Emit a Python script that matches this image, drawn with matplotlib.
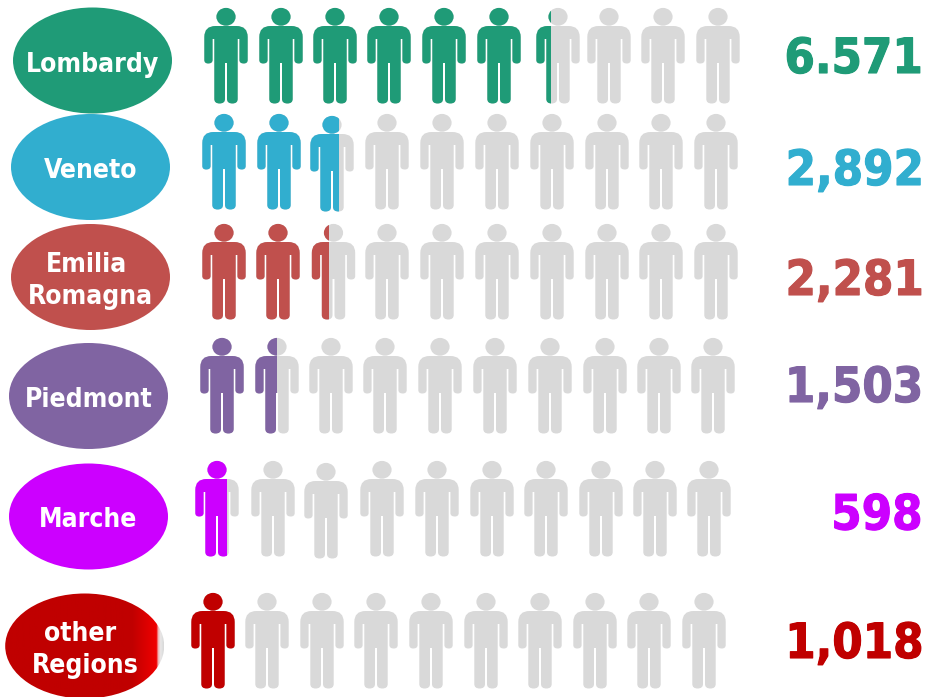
import numpy as np
import matplotlib
matplotlib.use('Agg')
import matplotlib.pyplot as plt
import matplotlib.patheffects as pe
from matplotlib.colors import LinearSegmentedColormap
from matplotlib.patches import Ellipse, PathPatch, Rectangle
from matplotlib.path import Path
from matplotlib.transforms import Affine2D

# chart values
regions = ['Lombardy', 'Veneto', 'Emilia\nRomagna', 'Piedmont', 'Marche', 'other\nRegions']
value_labels = ['6.571', '2,892', '2,281', '1,503', '598', '1,018']
# how many figures are filled in each row (as drawn, not value/1000)
filled = [6.35, 2.67, 2.40, 1.50, 0.72, 1.0]

colors = ['#1F9B77', '#31AECF', '#C0504D', '#8064A2', '#CC00FF', '#C00000']
grey = '#D9D9D9'

# layout, in reference pixels
figure_x = [
    [226, 281, 335, 389, 444, 499, 558, 609, 663, 718],
    [224, 279, 332, 387, 442, 497, 552, 607, 661, 716],
    [224, 278, 333.5, 387, 442, 497, 552, 607, 661, 716],
    [222, 277, 331, 385, 440, 495, 550, 605, 659, 713],
    [217, 273, 326, 382, 437, 492, 546, 601, 655, 709],
    [213, 267, 322, 376, 431, 486, 540, 595, 649, 704],
]
figure_top = [8, 114, 224, 338, 461, 593]
# the odd ones out that sit a little lower: (row, figure) -> extra px
figure_nudge = {(1, 2): 2, (4, 2): 2}
ellipses = [(92.5, 60.5, 159, 106), (90.5, 167, 159, 106), (90.5, 277, 159, 106),
            (88.5, 396, 159, 106), (88.5, 516.5, 159, 106), (84.7, 646, 159, 105)]
label_x = [[92.5], [90.3], [87, 90.5], [88.7], [88.3], [80.5, 85]]
label_base = [[72], [178], [272, 303.5], [407], [527], [641, 673]]
value_base = [73, 185, 295, 402, 529.5, 658]
value_right = [923, 924, 924, 923.5, 922.5, 924]


def person_path():
    # right half of the body, from the neck down to the crotch
    half = [('L', (10.5, 18)), ('Q', (21.7, 18), (21.7, 29)), ('L', (21.7, 52)),
            ('Q', (21.7, 55.5), (17.8, 55.5)), ('Q', (13.4, 55.5), (13.4, 52)),
            ('L', (13.4, 31)), ('L', (11.7, 31)), ('L', (11.7, 91)),
            ('Q', (11.7, 95.5), (6.4, 95.5)), ('Q', (1, 95.5), (1, 91)),
            ('L', (1, 55)), ('L', (0, 55))]
    verts = [(0, 18)]
    codes = [Path.MOVETO]
    for step in half:
        if step[0] == 'L':
            verts.append(step[1])
            codes.append(Path.LINETO)
        else:
            verts += [step[1], step[2]]
            codes += [Path.CURVE3, Path.CURVE3]
    # mirror for the left half, walking back over the same points
    ends = [(0, 18)] + [s[-1] for s in half]
    for i in range(len(half) - 1, -1, -1):
        step = half[i]
        prev = ends[i]
        if step[0] == 'L':
            verts.append((-prev[0], prev[1]))
            codes.append(Path.LINETO)
        else:
            verts += [(-step[1][0], step[1][1]), (-prev[0], prev[1])]
            codes += [Path.CURVE3, Path.CURVE3]
    body = Path(verts, codes)
    head = Path.unit_circle().transformed(Affine2D().scale(9.6, 8.9).translate(0, 8.8))
    return Path.make_compound_path(body, head)


fig = plt.figure(figsize=(9.28, 6.97), dpi=100)
ax = fig.add_axes([0, 0, 1, 1])
person = person_path()

bold = dict(family='DejaVu Sans', stretch='condensed', weight='bold', va='baseline')

for r, region in enumerate(regions):
    cx, cy, w, h = ellipses[r]
    if r == 5:
        # last oval picks up a bright edge on its right side
        oval = Ellipse((cx, cy), w, h, facecolor='none', edgecolor='none')
        ax.add_patch(oval)
        cmap = LinearSegmentedColormap.from_list(
            'edge', [(0, colors[r]), (0.80, colors[r]), (0.955, '#F00000'),
                     (0.965, '#F0B0B0'), (0.98, '#E8E8E8'), (1, grey)])
        im = ax.imshow(np.linspace(0, 1, 256)[None, :], cmap=cmap, aspect='auto',
                       extent=[cx - w / 2, cx + w / 2, cy + h / 2, cy - h / 2])
        im.set_clip_path(oval)
    else:
        ax.add_patch(Ellipse((cx, cy), w, h, facecolor=colors[r], edgecolor='none'))

    for line, lx, ly in zip(region.split('\n'), label_x[r], label_base[r]):
        ax.text(lx, ly, line, color='white', fontsize=19, ha='center', **bold)

    for i, x in enumerate(figure_x[r]):
        top = figure_top[r] + figure_nudge.get((r, i), 0)
        place = Affine2D().translate(x, top) + ax.transData
        ax.add_patch(PathPatch(person, facecolor=grey, edgecolor='none', transform=place))
        frac = min(max(filled[r] - i, 0), 1)
        if frac > 0:
            part = PathPatch(person, facecolor=colors[r], edgecolor='none', transform=place)
            ax.add_patch(part)
            part.set_clip_path(Rectangle((x - 22, top - 1), 44 * frac, 98, transform=ax.transData))

    t = ax.text(value_right[r], value_base[r], value_labels[r], color=colors[r], fontsize=35, ha='right', **bold)
    # the original numerals are a bit heavier than condensed bold
    t.set_path_effects([pe.withStroke(linewidth=0.8, foreground=colors[r])])

ax.set_xlim(0, 928)
ax.set_ylim(697, 0)
ax.axis('off')

fig.savefig('out.png', dpi=100)
